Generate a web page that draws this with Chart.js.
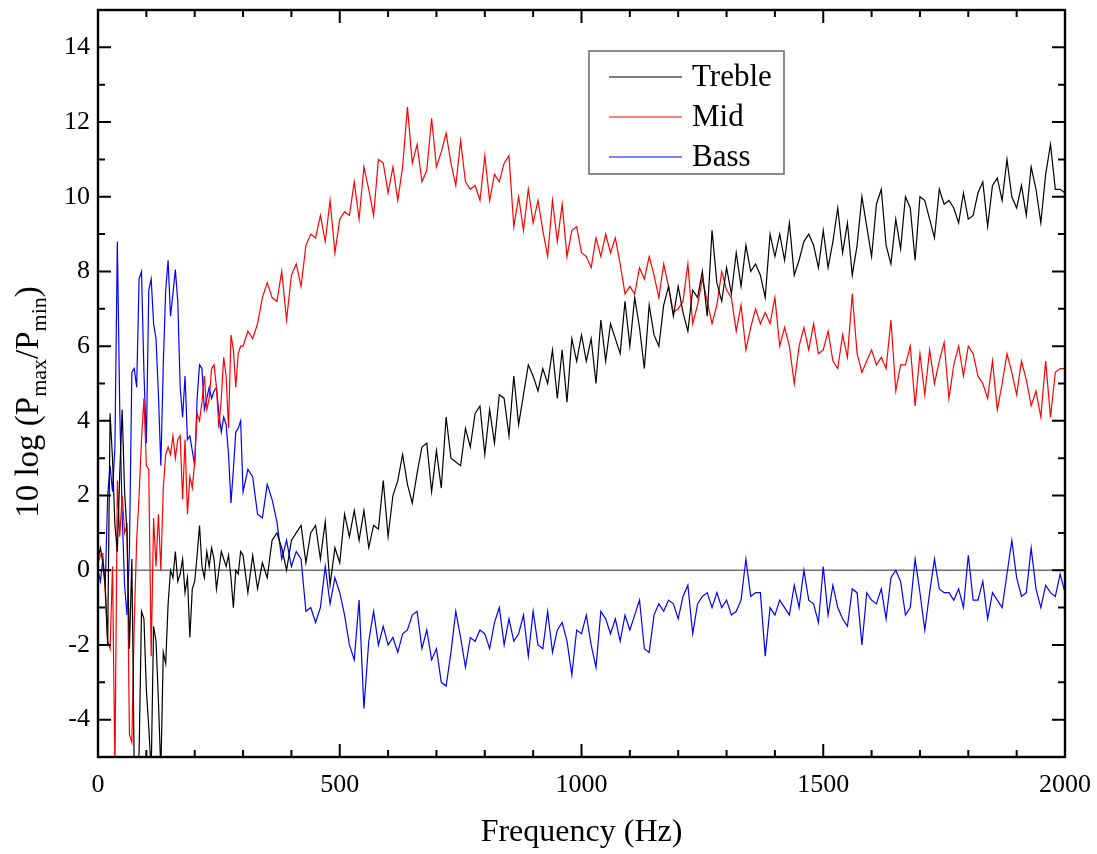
<!DOCTYPE html>
<html>
<head>
<meta charset="utf-8">
<script src="https://cdn.jsdelivr.net/npm/chart.js@4.4.1/dist/chart.umd.min.js"></script>
<style>
  html, body { margin: 0; padding: 0; background: #fff; }
  canvas { display: block; }
</style>
</head>
<body>
<canvas id="myChart" width="1097" height="854"></canvas>
<script>
// sampling: 5 Hz up to 295 Hz, then 10 Hz up to 2000 Hz
const freq = [];
for (let f = 0; f < 300; f += 5) freq.push(f);
for (let f = 300; f <= 2000; f += 10) freq.push(f);

const treble = [
  // 0 - 295 Hz (5 Hz)
  0.3, 0.6, 0.2, -0.4, -2.0, 4.2, 3.0, 1.2, 0.5, 2.6,
  4.3, 2.1, 1.0, -2.1, 0.3, -5.4, -5.3, -4.9, -1.1, -1.3,
  -3.2, -4.2, -5.4, -1.5, -1.9, -3.5, -5.4, -2.2, -2.5, -0.9,
  0.0, -0.2, 0.5, -0.3, -0.1, 0.3, -0.6, -0.2, -1.8, -0.5,
  -0.3, 0.4, 1.2, 0.1, -0.2, 0.5, 0.1, 0.6, 0.3, -0.5,
  0.0, 0.5, 0.3, 0.1, 0.4, -0.2, -1.0, 0.0, -0.1, 0.5,
  // 300 - 2000 Hz (10 Hz)
  0.4, -0.6, 0.4, -0.5, 0.2, -0.2, 0.8, 1.0, 0.6, 0.0,
  0.8, 1.0, 1.2, 0.2, 1.0, 1.2, 0.3, 1.3, -0.4, 0.6,
  0.2, 1.5, 0.9, 1.6, 0.8, 1.6, 0.6, 1.2, 1.1, 2.4,
  0.9, 2.0, 2.4, 3.1, 2.3, 1.8, 2.6, 3.3, 3.4, 2.1,
  3.2, 2.2, 4.1, 3.0, 2.9, 2.8, 3.8, 3.3, 4.2, 4.4,
  3.1, 4.3, 3.4, 4.7, 4.6, 3.6, 5.2, 3.9, 4.7, 5.5,
  5.2, 4.8, 5.4, 5.0, 5.9, 4.6, 5.9, 4.5, 6.2, 5.6,
  6.3, 5.6, 6.2, 5.0, 6.7, 5.6, 6.6, 6.2, 5.8, 7.2,
  6.0, 7.3, 6.5, 5.4, 7.1, 6.3, 6.0, 7.1, 7.6, 6.8,
  7.6, 6.9, 6.4, 7.5, 7.3, 8.0, 6.8, 9.1, 7.7, 7.2,
  8.1, 7.4, 8.5, 7.6, 8.7, 8.0, 8.2, 7.9, 7.3, 9.0,
  8.4, 9.0, 8.3, 9.3, 7.9, 8.3, 8.8, 9.0, 8.7, 8.1,
  9.1, 8.1, 8.8, 9.7, 8.5, 9.3, 7.9, 8.7, 10.0, 9.2,
  8.4, 9.8, 10.2, 8.7, 8.2, 9.4, 8.6, 10.0, 9.7, 8.3,
  10.0, 9.9, 9.4, 8.9, 10.2, 9.8, 9.9, 9.7, 9.3, 10.1,
  9.4, 9.5, 10.1, 10.4, 9.2, 10.3, 10.5, 9.9, 11.0, 10.0,
  9.7, 10.3, 9.5, 10.8, 10.2, 9.3, 10.6, 11.4, 10.2, 10.2,
  10.1
];

const mid = [
  0.2, 0.4, 0.45, -0.6, -1.9, -2.1, 0.1, -5.4, 2.4, 0.9,
  2.0, 1.0, 1.2, -4.4, -4.6, -1.4, 0.8, 2.0, 3.5, 4.6,
  2.8, 2.7, -2.3, 1.4, 0.1, 1.5, 0.0, 2.2, 3.1, 3.3,
  3.1, 3.6, 3.0, 3.5, 3.6, 1.9, 3.5, 1.5, 2.5, 2.2,
  2.9, 4.2, 4.0, 4.5, 5.2, 4.3, 4.6, 5.4, 5.5, 4.9,
  3.8, 4.6, 5.7, 5.2, 3.8, 6.3, 5.9, 4.9, 5.8, 6.0,
  6.0, 6.4, 6.2, 6.6, 7.3, 7.7, 7.3, 7.2, 8.0, 6.7,
  7.9, 8.2, 7.6, 8.7, 9.0, 8.9, 9.5, 8.8, 9.9, 8.5,
  9.4, 9.6, 9.5, 10.4, 9.4, 10.8, 10.2, 9.5, 11.0, 10.9,
  10.1, 10.8, 9.9, 10.8, 12.4, 10.9, 11.4, 10.4, 10.7, 12.1,
  10.8, 11.2, 11.7, 10.9, 10.3, 11.5, 10.4, 10.2, 10.3, 9.9,
  11.1, 9.9, 10.6, 10.4, 10.9, 11.1, 9.2, 10.0, 9.1, 10.2,
  9.3, 9.9, 9.1, 8.4, 9.9, 8.8, 9.8, 8.4, 9.1, 9.2,
  8.5, 8.4, 8.1, 8.9, 8.4, 9.0, 8.5, 8.9, 8.2, 7.4,
  7.6, 7.4, 8.1, 7.8, 8.4, 7.9, 7.3, 8.2, 7.6, 6.9,
  7.0, 7.2, 8.2, 6.6, 7.1, 7.8, 7.2, 6.6, 7.1, 8.0,
  7.5, 7.3, 6.4, 7.1, 5.9, 6.5, 7.0, 6.6, 6.9, 6.6,
  7.3, 6.0, 6.5, 6.0, 5.0, 6.0, 6.5, 5.9, 6.6, 5.8,
  5.9, 6.4, 5.6, 5.4, 6.3, 5.7, 7.4, 5.8, 5.3, 5.6,
  5.9, 5.5, 5.7, 5.4, 6.7, 4.8, 5.5, 5.5, 6.0, 4.4,
  5.8, 4.7, 5.9, 5.0, 5.6, 6.1, 4.6, 5.5, 6.0, 5.2,
  6.0, 5.8, 5.2, 5.0, 4.6, 5.6, 4.3, 5.0, 5.8, 5.3,
  4.7, 5.6, 5.1, 4.4, 4.8, 4.1, 5.6, 4.1, 5.3, 5.4,
  5.4
];

const bass = [
  0.0, -0.3, 0.3, -0.4, 2.0, 2.8, 2.1, 3.3, 8.8, 4.3,
  1.5, -0.4, -1.2, 0.5, 5.3, 5.4, 4.9, 7.8, 8.0, 5.3,
  3.4, 7.5, 7.8, 6.6, 6.2, 4.7, 2.8, 5.5, 7.5, 8.3,
  6.8, 7.4, 8.05, 7.2, 4.9, 4.1, 5.2, 3.5, 3.6, 3.2,
  2.8, 4.6, 5.5, 5.4, 4.3, 4.6, 4.9, 4.6, 4.8, 4.9,
  4.2, 3.7, 4.1, 3.9, 3.1, 1.8, 2.7, 3.7, 3.8, 4.0,
  2.1, 2.7, 2.5, 1.5, 1.4, 2.3, 1.9, 1.3, 0.3, 0.8,
  0.1, 0.5, 0.3, -1.1, -1.0, -1.4, -1.0, 0.1, -0.9, -0.2,
  -0.6, -1.2, -2.0, -2.4, -0.8, -3.7, -1.9, -1.1, -2.0, -1.5,
  -2.0, -1.8, -2.2, -1.7, -1.6, -1.2, -1.1, -2.1, -1.6, -2.4,
  -2.1, -3.0, -3.1, -2.2, -1.1, -1.8, -2.6, -1.8, -1.9, -1.6,
  -1.7, -2.1, -1.4, -1.0, -2.0, -1.3, -1.9, -1.7, -1.2, -2.3,
  -1.1, -2.0, -2.1, -1.1, -2.2, -1.6, -1.4, -1.9, -2.8, -1.6,
  -1.7, -1.2, -2.0, -2.6, -1.1, -1.3, -1.7, -1.3, -1.9, -1.2,
  -1.6, -1.2, -0.8, -2.1, -2.2, -1.2, -0.9, -1.1, -0.8, -0.9,
  -1.3, -0.7, -0.4, -1.7, -0.9, -0.7, -0.6, -1.0, -0.6, -1.0,
  -0.8, -1.2, -1.1, -0.8, 0.3, -0.7, -0.6, -0.6, -2.3, -1.0,
  -1.2, -0.8, -1.0, -1.2, -0.4, -1.0, 0.0, -0.8, -0.9, -1.4,
  0.1, -1.2, -0.4, -1.0, -1.3, -1.5, -0.5, -0.6, -2.0, -0.6,
  -0.8, -0.9, -0.5, -1.3, -0.2, 0.0, -0.3, -1.2, -1.0, 0.3,
  -0.6, -1.6, -0.6, 0.3, -0.5, -0.6, -0.6, -0.8, -0.5, -1.0,
  0.4, -0.8, -0.8, -0.3, -1.3, -0.6, -0.8, -1.0, -0.1, 0.8,
  -0.2, -0.7, -0.6, 0.6, -0.5, -1.0, -0.4, -0.6, -0.7, -0.1,
  -0.6
];

const xTicks = { min: 0, max: 2000, major: 500, minor: 100 };
const yTicks = { min: -5, max: 15, major: 2, minor: 1, first: -4, last: 14 };

const serif = '"Liberation Serif", "Times New Roman", serif';
Chart.defaults.font.family = serif;
Chart.defaults.color = '#000';

const toPoints = vals => freq.map((f, i) => ({ x: f, y: vals[i] }));

// frame, inward ticks, zero line, titles and legend like the original plot
const frame = {
  id: 'frame',
  beforeDatasetsDraw(chart) {
    const { ctx, chartArea: a, scales: { y } } = chart;
    const y0 = y.getPixelForValue(0);
    ctx.save();
    ctx.strokeStyle = '#707070';
    ctx.lineWidth = 1.6;
    ctx.beginPath();
    ctx.moveTo(a.left, y0);
    ctx.lineTo(a.right, y0);
    ctx.stroke();
    ctx.restore();
  },
  afterDraw(chart) {
    const { ctx, chartArea: a, scales: { x, y } } = chart;
    ctx.save();
    ctx.strokeStyle = '#000';
    ctx.lineWidth = 2;
    ctx.beginPath();
    for (let v = xTicks.min; v <= xTicks.max; v += xTicks.minor) {
      const px = x.getPixelForValue(v);
      const len = v % xTicks.major === 0 ? 13 : 7;
      ctx.moveTo(px, a.bottom); ctx.lineTo(px, a.bottom - len);
      ctx.moveTo(px, a.top); ctx.lineTo(px, a.top + len);
    }
    for (let v = yTicks.min; v <= yTicks.max; v += yTicks.minor) {
      const py = y.getPixelForValue(v);
      const len = v % yTicks.major === 0 ? 13 : 7;
      ctx.moveTo(a.left, py); ctx.lineTo(a.left + len, py);
      ctx.moveTo(a.right, py); ctx.lineTo(a.right - len, py);
    }
    ctx.stroke();
    ctx.lineWidth = 2.4;
    ctx.strokeRect(a.left, a.top, a.right - a.left, a.bottom - a.top);

    // x title
    ctx.fillStyle = '#000';
    ctx.font = '32px ' + serif;
    ctx.textAlign = 'center';
    ctx.textBaseline = 'middle';
    ctx.fillText('Frequency (Hz)', (a.left + a.right) / 2, 833);

    // y title with subscripts
    const parts = [
      ['10 log (P', 33, 0], ['max', 22, 8], ['/P', 33, 0], ['min', 22, 8], [')', 33, 0]
    ];
    let total = 0;
    parts.forEach(p => { ctx.font = p[1] + 'px ' + serif; total += ctx.measureText(p[0]).width; });
    ctx.translate(37.5, 402);
    ctx.rotate(-Math.PI / 2);
    ctx.textAlign = 'left';
    ctx.textBaseline = 'alphabetic';
    let cx = -total / 2;
    parts.forEach(p => {
      ctx.font = p[1] + 'px ' + serif;
      ctx.fillText(p[0], cx, p[2]);
      cx += ctx.measureText(p[0]).width;
    });
    ctx.setTransform(1, 0, 0, 1, 0, 0);

    // legend
    ctx.strokeStyle = '#666';
    ctx.lineWidth = 1.5;
    ctx.strokeRect(589, 51, 195, 123);
    ctx.font = '31px ' + serif;
    ctx.textBaseline = 'middle';
    chart.data.datasets.forEach((ds, i) => {
      const ly = 77 + i * 40;
      ctx.strokeStyle = ds.borderColor;
      ctx.lineWidth = 1.2;
      ctx.beginPath();
      ctx.moveTo(609, ly); ctx.lineTo(682, ly);
      ctx.stroke();
      ctx.fillStyle = '#000';
      ctx.fillText(ds.label, 692, ly + 1);
    });
    ctx.restore();
  }
};

new Chart(document.getElementById('myChart'), {
  type: 'line',
  data: {
    datasets: [
      { label: 'Treble', data: toPoints(treble), borderColor: '#000000' },
      { label: 'Mid', data: toPoints(mid), borderColor: '#ff0000' },
      { label: 'Bass', data: toPoints(bass), borderColor: '#0000ff' }
    ]
  },
  options: {
    responsive: false,
    animation: false,
    devicePixelRatio: 1,
    layout: { padding: { left: 0, right: 32, top: 10, bottom: 0 } },
    elements: {
      line: { borderWidth: 1.2, tension: 0 },
      point: { radius: 0 }
    },
    plugins: { legend: { display: false }, tooltip: { enabled: false } },
    scales: {
      x: {
        type: 'linear', min: xTicks.min, max: xTicks.max,
        grid: { display: false, drawTicks: false },
        border: { display: false },
        ticks: { stepSize: xTicks.major, padding: 13, font: { size: 26 }, maxRotation: 0,
                 callback: v => String(v) },
        afterFit: s => { s.height = 97; s.paddingLeft = 0; s.paddingRight = 0; }
      },
      y: {
        min: yTicks.min, max: yTicks.max,
        grid: { display: false, drawTicks: false },
        border: { display: false },
        ticks: { padding: 8, font: { size: 26 }, callback: v => String(v) },
        afterBuildTicks: s => {
          const t = [];
          for (let v = yTicks.first; v <= yTicks.last; v += yTicks.major) t.push({ value: v });
          s.ticks = t;
        },
        afterFit: s => { s.width = 98; s.paddingTop = 0; s.paddingBottom = 0; }
      }
    }
  },
  plugins: [frame]
});
</script>
</body>
</html>
